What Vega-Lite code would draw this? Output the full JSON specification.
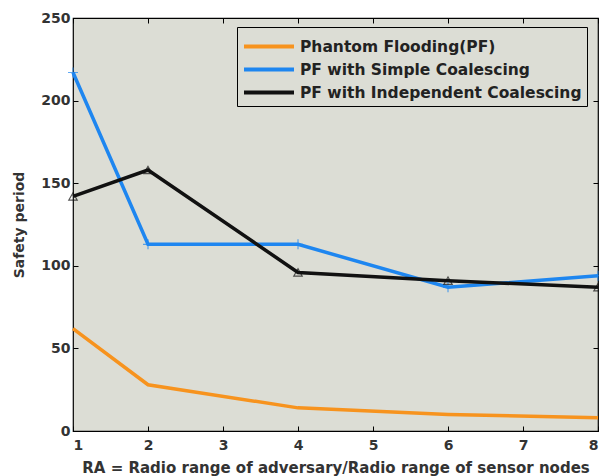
{
  "$schema": "https://vega.github.io/schema/vega-lite/v6.json",
  "autosize": {"type": "none"},
  "padding": {"left": 73, "top": 18, "right": 1, "bottom": 45},
  "width": 525,
  "height": 413,
  "background": "white",
  "config": {
    "view": {"fill": "#dcddd5", "stroke": "black", "strokeWidth": 1.2},
    "font": "DejaVu Sans",
    "axis": {
      "grid": false,
      "domain": false,
      "tickColor": "black",
      "tickSize": -5,
      "tickWidth": 1,
      "labelFont": "DejaVu Sans",
      "labelFontWeight": "bold",
      "labelFontSize": 14,
      "labelColor": "#333333",
      "titleFont": "DejaVu Sans",
      "titleFontWeight": "bold",
      "titleColor": "#333333"
    }
  },
  "data": {
    "values": [
      {"ra": 1, "series": "Phantom Flooding(PF)", "period": 62},
      {"ra": 2, "series": "Phantom Flooding(PF)", "period": 28},
      {"ra": 4, "series": "Phantom Flooding(PF)", "period": 14},
      {"ra": 6, "series": "Phantom Flooding(PF)", "period": 10},
      {"ra": 8, "series": "Phantom Flooding(PF)", "period": 8},
      {"ra": 1, "series": "PF with Simple Coalescing", "period": 217},
      {"ra": 2, "series": "PF with Simple Coalescing", "period": 113},
      {"ra": 4, "series": "PF with Simple Coalescing", "period": 113},
      {"ra": 6, "series": "PF with Simple Coalescing", "period": 87},
      {"ra": 8, "series": "PF with Simple Coalescing", "period": 94},
      {"ra": 1, "series": "PF with Independent Coalescing", "period": 142},
      {"ra": 2, "series": "PF with Independent Coalescing", "period": 158},
      {"ra": 4, "series": "PF with Independent Coalescing", "period": 96},
      {"ra": 6, "series": "PF with Independent Coalescing", "period": 91},
      {"ra": 8, "series": "PF with Independent Coalescing", "period": 87}
    ]
  },
  "layer": [
    {
      "mark": {"type": "line", "strokeWidth": 3.5, "clip": false},
      "encoding": {
        "x": {
          "field": "ra", "type": "quantitative",
          "scale": {"domain": [1, 8], "nice": false, "zero": false},
          "axis": {"values": [1, 2, 3, 4, 5, 6, 7, 8], "title": "RA = Radio range of adversary/Radio range of sensor nodes", "titleFontSize": 15, "titlePadding": 8, "labelPadding": 12}
        },
        "y": {
          "field": "period", "type": "quantitative",
          "scale": {"domain": [0, 250], "nice": false},
          "axis": {"values": [0, 50, 100, 150, 200, 250], "title": "Safety period", "titleFontSize": 14, "titlePadding": 14, "labelPadding": 8}
        },
        "color": {
          "field": "series", "type": "nominal",
          "scale": {
            "domain": ["Phantom Flooding(PF)", "PF with Simple Coalescing", "PF with Independent Coalescing"],
            "range": ["#f7931e", "#1e86f0", "#111111"]
          },
          "legend": {
            "title": null,
            "orient": "none",
            "legendX": 164,
            "legendY": 9,
            "symbolType": "M-1,0H3",
            "symbolSize": 625,
            "symbolStrokeWidth": 4,
            "labelFont": "DejaVu Sans",
            "labelFontWeight": "bold",
            "labelFontSize": 15.5,
            "labelColor": "#222222",
            "labelOffset": 29,
            "labelLimit": 400,
            "rowPadding": 0,
            "padding": 5,
            "fillColor": "#dcddd5",
            "strokeColor": "black",
            "cornerRadius": 0
          }
        }
      }
    },
    {
      "transform": [{"filter": "datum.series === 'PF with Simple Coalescing'"}],
      "mark": {"type": "point", "shape": "M-1,0H1M0,-1V1", "filled": false, "strokeWidth": 1.2, "size": 100, "color": "#1e86f0", "clip": false},
      "encoding": {
        "x": {"field": "ra", "type": "quantitative", "axis": null},
        "y": {"field": "period", "type": "quantitative", "axis": null}
      }
    },
    {
      "transform": [{"filter": "datum.series === 'PF with Independent Coalescing'"}],
      "mark": {"type": "point", "shape": "triangle-up", "filled": false, "strokeWidth": 1.2, "size": 70, "color": "#111111", "clip": false},
      "encoding": {
        "x": {"field": "ra", "type": "quantitative", "axis": null},
        "y": {"field": "period", "type": "quantitative", "axis": null}
      }
    },
    {
      "mark": {"type": "point", "opacity": 0},
      "encoding": {
        "x": {"field": "ra", "type": "quantitative", "axis": {"orient": "top", "labels": false, "title": null, "values": [1, 2, 3, 4, 5, 6, 7, 8]}},
        "y": {"field": "period", "type": "quantitative", "axis": {"orient": "right", "labels": false, "title": null, "values": [0, 50, 100, 150, 200, 250]}}
      }
    }
  ],
  "resolve": {"axis": {"x": "independent", "y": "independent"}}
}
